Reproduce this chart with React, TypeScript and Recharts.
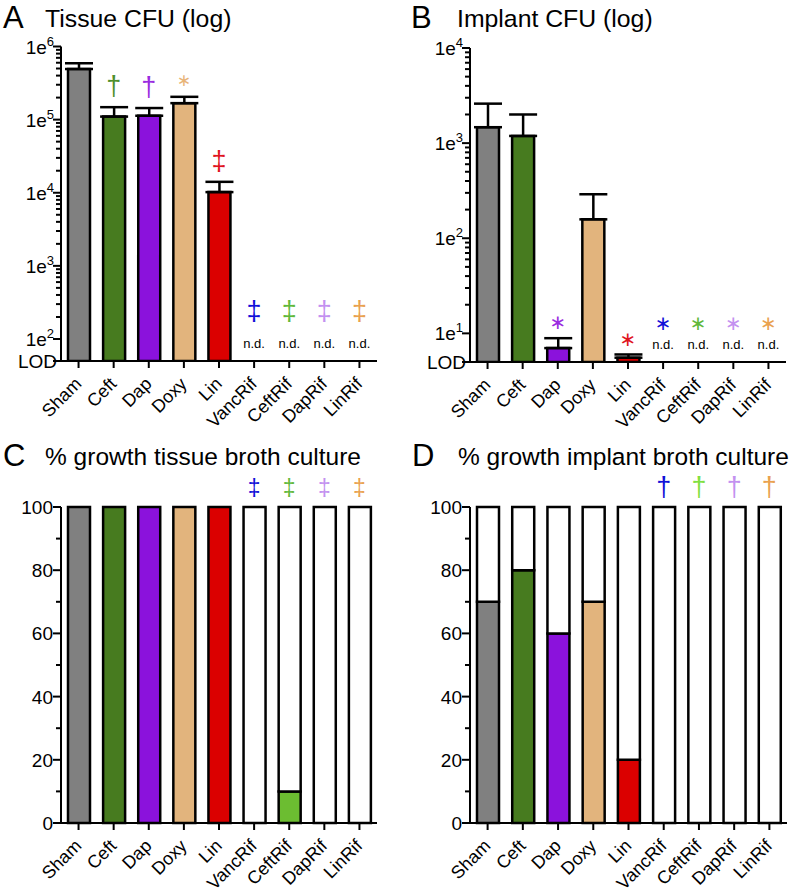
import React from 'react';
import { ComposedChart, Bar, Line, XAxis, YAxis, ErrorBar, Cell, ReferenceLine } from 'recharts';

const FONT = '"Liberation Sans", Arial, Helvetica, sans-serif';
const SYMFONT = '"DejaVu Sans", "Liberation Sans", Arial, sans-serif';

const categories = ['Sham', 'Ceft', 'Dap', 'Doxy', 'Lin', 'VancRif', 'CeftRif', 'DapRif', 'LinRif'];
const barColors = ['#808080', '#477b1f', '#8b12dc', '#e2b47d', '#db0000', '#1a1ad6', '#6cbd31', '#c590ef', '#eca150'];
const symbolColors = ['#808080', '#4f8f2c', '#9a2be0', '#e8b477', '#e0141e', '#1010d8', '#60b83a', '#c391f0', '#e9a14f'];
const symbolColorsD = ['#808080', '#4f8f2c', '#9a2be0', '#e8b477', '#e0141e', '#1010d8', '#80e040', '#c391f0', '#e9a14f'];

// Panel A – tissue CFU (log)
const tissueCFU = [492000, 110000, 113000, 168000, 10200, null, null, null, null];
const tissueCFUUpper = [590000, 148000, 144000, 205000, 14100, null, null, null, null];
const tissueCFUSig = ['', '†', '†', '*', '‡', '‡', '‡', '‡', '‡'];
const tissueCFUTicks = [1e2, 1e3, 1e4, 1e5, 1e6];
const tissueLOD = 50;

// Panel B – implant CFU (log)
const implantCFU = [1470, 1190, 7.0, 158, 5.55, null, null, null, null];
const implantCFUUpper = [2600, 2000, 8.9, 290, 6.0, null, null, null, null];
const implantCFUSig = ['', '', '*', '', '*', '*', '*', '*', '*'];
const implantCFUTicks = [1e1, 1e2, 1e3, 1e4];
const implantLOD = 5;

// Panel C – % growth tissue broth culture
const tissueGrowth = [100, 100, 100, 100, 100, 0, 10, 0, 0];
const tissueGrowthSig = ['', '', '', '', '', '‡', '‡', '‡', '‡'];
// Panel D – % growth implant broth culture
const implantGrowth = [70, 80, 60, 70, 20, 0, 0, 0, 0];
const implantGrowthSig = ['', '', '', '', '', '†', '†', '†', '†'];
const percentTicks = [0, 20, 40, 60, 80, 100];
const percentMinorTicks = [10, 30, 50, 70, 90];

const minorLogTicks = (majors: number[]) => {
  const out: number[] = [];
  for (let i = 0; i < majors.length - 1; i++) {
    for (let m = 2; m <= 9; m++) out.push(majors[i] * m);
  }
  return out;
};

const logData = (vals: (number | null)[], upper: (number | null)[], sig: string[], lod: number) =>
  categories.map((c, i) => ({
    name: c,
    value: vals[i],
    err: vals[i] == null ? null : [0, (upper[i] as number) - (vals[i] as number)],
    mark: vals[i] == null ? lod : upper[i],
    nd: vals[i] == null,
    sig: sig[i],
    symColor: symbolColors[i],
  }));

const pctData = (vals: number[], sig: string[], colors: string[]) =>
  categories.map((c, i) => ({
    name: c,
    growth: vals[i],
    rest: 100 - vals[i],
    mark: 100,
    nd: false,
    sig: sig[i],
    symColor: colors[i],
  }));

const SigSymbol = ({ x, base, ch, color, fs }: any) => {
  if (ch === '*') {
    // base = centre of the asterisk
    return (
      <text x={x} y={base + 0.36 * fs} fontSize={fs} fontFamily={SYMFONT} textAnchor="middle" fill={color}>
        {'\u2217'}
      </text>
    );
  }
  // base = bottom of dagger glyph
  return (
    <text x={x} y={base - 0.16 * fs} fontSize={fs} fontFamily={FONT} textAnchor="middle" fill={color}>
      {ch}
    </text>
  );
};

const makeMark = (cfg: any) => (props: any) => {
  const { cx, cy, payload, index } = props;
  if (cx == null || cy == null || !payload) return <g key={`m${index}`} />;
  const ch = payload.sig;
  const parts: any[] = [];
  let base = cy;
  if (payload.nd) {
    parts.push(
      <text key="nd" x={cx} y={cy - cfg.ndTextLift + 5} fontSize={13} fontFamily={FONT} textAnchor="middle" fill="#000">
        n.d.
      </text>
    );
    base = cy - cfg.ndLift;
  }
  if (ch) {
    const b = ch === '*' ? base - cfg.starGap : base - cfg.daggerGap;
    parts.push(<SigSymbol key="s" x={cx} base={b} ch={ch} color={payload.symColor} fs={ch === '*' ? cfg.starSize : cfg.daggerSize} />);
  }
  return <g key={`m${index}`}>{parts}</g>;
};

const XTick = (props: any) => {
  const { x, y, payload } = props;
  const ax = x + 4;
  const ay = y + 15;
  return (
    <text x={ax} y={ay} transform={`rotate(-45 ${ax} ${ay})`} textAnchor="end" fontSize={18} fontFamily={FONT} fill="#000">
      {payload.value}
    </text>
  );
};

const makeLogYTick = (lod: number) => (props: any) => {
  const { x, y, payload } = props;
  const v = payload.value;
  if (v === lod) {
    return (
      <text x={x + 4} y={y + 7} textAnchor="end" fontSize={19} fontFamily={FONT} fill="#000">
        LOD
      </text>
    );
  }
  const e = Math.round(Math.log10(v));
  return (
    <text x={x + 1} y={y + 7} textAnchor="end" fontSize={19} fontFamily={FONT} fill="#000">
      1e
      <tspan fontSize={13} dy={-8}>
        {e}
      </tspan>
    </text>
  );
};

const PctYTick = (props: any) => {
  const { x, y, payload } = props;
  return (
    <text x={x} y={y + 7} textAnchor="end" fontSize={19} fontFamily={FONT} fill="#000">
      {payload.value}
    </text>
  );
};

const MinorTick = (props: any) => {
  const { x1, y1 } = props;
  if (x1 == null || y1 == null) return <g />;
  return <line x1={x1} x2={x1 - 5} y1={y1} y2={y1} stroke="#000" strokeWidth={2} />;
};

const axisLine = { stroke: '#000', strokeWidth: 2 };
const tickLine = { stroke: '#000', strokeWidth: 2 };

const XAx = (pos: any) => (
  <XAxis
    dataKey="name"
    type="category"
    height={pos.xh}
    interval={0}
    axisLine={axisLine}
    tickLine={tickLine}
    tickSize={7}
    tickMargin={2}
    tick={<XTick />}
  />
);

const LogPanel = ({ pos, data, lod, majors, yWidth, cfg }: any) => {
  const ticks = [lod, ...majors];
  const minors = minorLogTicks(majors);
  return (
    <div style={{ position: 'absolute', left: pos.left, top: pos.top }}>
      <ComposedChart width={pos.width} height={pos.height} data={data} margin={{ top: pos.mt, right: pos.mr, left: 0, bottom: 0 }}>
        {XAx(pos)}
        <YAxis
          type="number"
          scale="log"
          domain={[lod, majors[majors.length - 1]]}
          allowDataOverflow
          ticks={ticks}
          interval={0}
          width={yWidth}
          axisLine={axisLine}
          tickLine={tickLine}
          tickSize={8}
          tickMargin={0}
          tick={makeLogYTick(lod)}
        />
        {minors.map((m) => (
          <ReferenceLine key={m} y={m} ifOverflow="visible" shape={<MinorTick />} />
        ))}
        <Bar dataKey="value" barSize={22} stroke="#000" strokeWidth={2.5} isAnimationActive={false}>
          {data.map((d: any, i: number) => (
            <Cell key={i} fill={barColors[i]} />
          ))}
          <ErrorBar dataKey="err" width={14} strokeWidth={2.5} stroke="#000" direction="y" />
        </Bar>
        <Line dataKey="mark" stroke="none" dot={makeMark(cfg)} activeDot={false} isAnimationActive={false} legendType="none" />
      </ComposedChart>
    </div>
  );
};

const PctPanel = ({ pos, data, yWidth, cfg }: any) => {
  return (
    <div style={{ position: 'absolute', left: pos.left, top: pos.top }}>
      <ComposedChart width={pos.width} height={pos.height} data={data} margin={{ top: pos.mt, right: pos.mr, left: 0, bottom: 0 }}>
        {XAx(pos)}
        <YAxis
          type="number"
          domain={[0, 100]}
          ticks={percentTicks}
          interval={0}
          width={yWidth}
          axisLine={axisLine}
          tickLine={tickLine}
          tickSize={8}
          tickMargin={0}
          tick={<PctYTick />}
        />
        {percentMinorTicks.map((m) => (
          <ReferenceLine key={m} y={m} ifOverflow="visible" shape={<MinorTick />} />
        ))}
        <Bar dataKey="growth" stackId="s" barSize={22} stroke="#000" strokeWidth={2.5} isAnimationActive={false}>
          {data.map((d: any, i: number) => (
            <Cell key={i} fill={barColors[i]} />
          ))}
        </Bar>
        <Bar dataKey="rest" stackId="s" barSize={22} fill="#fff" stroke="#000" strokeWidth={2.5} isAnimationActive={false} />
        <Line dataKey="mark" stroke="none" dot={makeMark(cfg)} activeDot={false} isAnimationActive={false} legendType="none" />
      </ComposedChart>
    </div>
  );
};

const Titles = () => (
  <svg width={791} height={894} style={{ position: 'absolute', left: 0, top: 0, pointerEvents: 'none' }}>
    <g fontFamily={FONT} fill="#000">
      <text x={3} y={28} fontSize={31}>A</text>
      <text x={45} y={27} fontSize={24.8}>Tissue CFU (log)</text>
      <text x={411} y={28} fontSize={31}>B</text>
      <text x={457} y={27} fontSize={24.8}>Implant CFU (log)</text>
      <text x={3} y={466} fontSize={31}>C</text>
      <text x={45} y={465} fontSize={24.5}>% growth tissue broth culture</text>
      <text x={412} y={466} fontSize={31}>D</text>
      <text x={458} y={465} fontSize={24.5}>% growth implant broth culture</text>
    </g>
  </svg>
);

export default function App() {
  const dataA = logData(tissueCFU, tissueCFUUpper, tissueCFUSig, tissueLOD);
  const dataB = logData(implantCFU, implantCFUUpper, implantCFUSig, implantLOD);
  const dataC = pctData(tissueGrowth, tissueGrowthSig, symbolColors);
  const dataD = pctData(implantGrowth, implantGrowthSig, symbolColorsD);
  return (
    <div style={{ position: 'absolute', left: 0, top: 0, width: 791, height: 894, background: '#fff', overflow: 'hidden' }}>
      <Titles />
      <LogPanel
        pos={{ left: 0, top: 0, width: 395, height: 440, mt: 46.5, mr: 18, xh: 79 }}
        data={dataA}
        lod={tissueLOD}
        majors={tissueCFUTicks}
        yWidth={61}
        cfg={{ ndLift: 29, ndTextLift: 18, starGap: 17, daggerGap: 8, starSize: 17, daggerSize: 27 }}
      />
      <LogPanel
        pos={{ left: 400, top: 0, width: 391, height: 440, mt: 48, mr: 5, xh: 78 }}
        data={dataB}
        lod={implantLOD}
        majors={implantCFUTicks}
        yWidth={70}
        cfg={{ ndLift: 23, ndTextLift: 18, starGap: 16, daggerGap: 8, starSize: 20, daggerSize: 27 }}
      />
      <PctPanel
        pos={{ left: 0, top: 440, width: 395, height: 454, mt: 67, mr: 18, xh: 71 }}
        data={dataC}
        yWidth={61}
        cfg={{ ndLift: 0, ndTextLift: 0, starGap: 16, daggerGap: 7, starSize: 20, daggerSize: 23 }}
      />
      <PctPanel
        pos={{ left: 400, top: 440, width: 391, height: 454, mt: 67, mr: 4, xh: 71 }}
        data={dataD}
        yWidth={70}
        cfg={{ ndLift: 0, ndTextLift: 0, starGap: 16, daggerGap: 7, starSize: 20, daggerSize: 27 }}
      />
    </div>
  );
}
